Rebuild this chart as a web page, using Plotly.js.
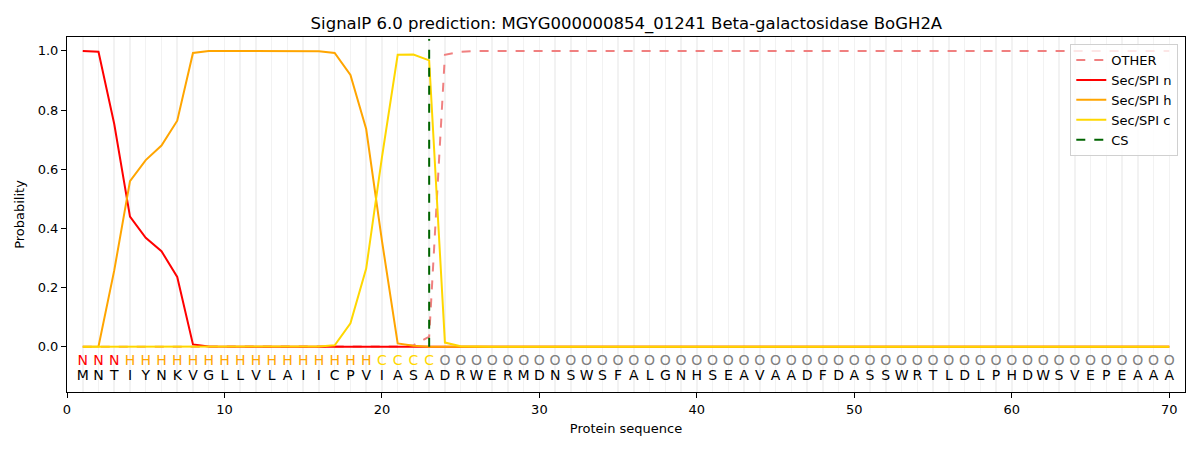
<!DOCTYPE html>
<html>
<head>
<meta charset="utf-8">
<script src="https://cdn.plot.ly/plotly-3.0.1.min.js"></script>
<style>
  html, body { margin: 0; padding: 0; background: #ffffff; }
  #chart { width: 1200px; height: 450px; }
</style>
</head>
<body>
<div id="chart"></div>
<script>
// SignalP 6.0 output for MGYG000000854_01241
var sequence = 'MNTIYNKVGLLVLAIICPVIASADRWERMDNSWSFALGNHSEAVAADFDASSWRTLDLPHDWSVEPEAAA';
var states = 'NNNHHHHHHHHHHHHHHHHCCCCOOOOOOOOOOOOOOOOOOOOOOOOOOOOOOOOOOOOOOOOOOOOOOO';
var csPos = 23;

var otherProb = [
  0, 0, 0, 0, 0, 0, 0, 0, 0, 0,
  0, 0, 0, 0, 0, 0, 0, 0, 0, 0,
  0.001, 0.005, 0.034, 0.987, 0.997, 1, 1, 1, 1, 1,
  1, 1, 1, 1, 1, 1, 1, 1, 1, 1,
  1, 1, 1, 1, 1, 1, 1, 1, 1, 1,
  1, 1, 1, 1, 1, 1, 1, 1, 1, 1,
  1, 1, 1, 1, 1, 1, 1, 1, 1, 1
];
var secN = [
  1.0, 0.997, 0.753, 0.44, 0.368, 0.323, 0.236, 0.008, 0.001, 0,
  0, 0, 0, 0, 0, 0, 0, 0, 0, 0,
  0, 0, 0, 0, 0, 0, 0, 0, 0, 0,
  0, 0, 0, 0, 0, 0, 0, 0, 0, 0,
  0, 0, 0, 0, 0, 0, 0, 0, 0, 0,
  0, 0, 0, 0, 0, 0, 0, 0, 0, 0,
  0, 0, 0, 0, 0, 0, 0, 0, 0, 0
];
var secH = [
  0, 0.001, 0.258, 0.56, 0.631, 0.68, 0.764, 0.993, 1.0, 1.0,
  1.0, 1.0, 1.0, 1.0, 1.0, 0.999, 0.993, 0.919, 0.736, 0.359,
  0.011, 0.003, 0, 0, 0, 0, 0, 0, 0, 0,
  0, 0, 0, 0, 0, 0, 0, 0, 0, 0,
  0, 0, 0, 0, 0, 0, 0, 0, 0, 0,
  0, 0, 0, 0, 0, 0, 0, 0, 0, 0,
  0, 0, 0, 0, 0, 0, 0, 0, 0, 0
];
var secC = [
  0, 0, 0, 0, 0, 0, 0, 0, 0, 0,
  0, 0, 0, 0, 0, 0.001, 0.005, 0.079, 0.264, 0.64,
  0.987, 0.988, 0.968, 0.014, 0.002, 0, 0, 0, 0, 0,
  0, 0, 0, 0, 0, 0, 0, 0, 0, 0,
  0, 0, 0, 0, 0, 0, 0, 0, 0, 0,
  0, 0, 0, 0, 0, 0, 0, 0, 0, 0,
  0, 0, 0, 0, 0, 0, 0, 0, 0, 0
];

var xTicks = [0, 10, 20, 30, 40, 50, 60, 70];
var yTicks = [0, 0.2, 0.4, 0.6, 0.8, 1.0];

var font = 'DejaVu Sans, sans-serif';
var stateColor = { N: '#ff0000', H: '#ffa500', C: '#ffd700', O: '#808080' };

var positions = sequence.split('').map(function (_, i) { return i + 1; });

function probLine(name, y, color, dash) {
  return {
    x: positions, y: y, name: name, type: 'scatter', mode: 'lines',
    line: { color: color, width: 2, dash: dash || 'solid' },
    hoverinfo: 'skip'
  };
}

var traces = [
  probLine('OTHER', otherProb, '#f08080', 'dash'),
  probLine('Sec/SPI n', secN, '#ff0000'),
  probLine('Sec/SPI h', secH, '#ffa500'),
  probLine('Sec/SPI c', secC, '#ffd700'),
  {
    x: [csPos, csPos], y: [0, 1.04], name: 'CS', type: 'scatter', mode: 'lines',
    line: { color: '#006400', width: 2, dash: 'dash' }, hoverinfo: 'skip'
  },
  {
    x: positions, y: positions.map(function () { return -0.05; }),
    text: states.split(''), type: 'scatter', mode: 'text', showlegend: false,
    textfont: { family: font, size: 14, color: states.split('').map(function (s) { return stateColor[s]; }) },
    hoverinfo: 'skip'
  },
  {
    x: positions, y: positions.map(function () { return -0.1; }),
    text: sequence.split(''), type: 'scatter', mode: 'text', showlegend: false,
    textfont: { family: font, size: 14, color: '#000000' },
    hoverinfo: 'skip'
  }
];

var axisBase = {
  showline: true, mirror: true, linecolor: '#000000', linewidth: 1,
  ticks: 'outside', ticklen: 5, tickcolor: '#000000',
  tickfont: { family: font, size: 13, color: '#000000' },
  zeroline: false
};

var layout = {
  width: 1200, height: 450,
  margin: { t: 37, r: 15, b: 58, l: 67 },
  paper_bgcolor: '#ffffff', plot_bgcolor: '#ffffff',
  font: { family: font, size: 13, color: '#000000' },
  title: {
    text: 'SignalP 6.0 prediction: MGYG000000854_01241 Beta-galactosidase BoGH2A',
    font: { family: font, size: 16.5, color: '#000000' },
    x: 0.522, xanchor: 'center', y: 0.949, yref: 'container', yanchor: 'middle'
  },
  xaxis: Object.assign({}, axisBase, {
    range: [0, 71], tickvals: xTicks,
    showgrid: true, gridcolor: '#f2f2f2', gridwidth: 1.5,
    minor: { dtick: 1, tick0: 0, showgrid: true, gridcolor: '#f2f2f2', gridwidth: 1.5, ticks: '' },
    title: { text: 'Protein sequence', font: { family: font, size: 13 }, standoff: 8 }
  }),
  yaxis: Object.assign({}, axisBase, {
    range: [-0.153, 1.047], tickvals: yTicks, tickformat: '.1f', showgrid: false,
    title: { text: 'Probability', font: { family: font, size: 13 }, standoff: 10 }
  }),
  legend: {
    x: 0.994, y: 0.98, xanchor: 'right', yanchor: 'top',
    bgcolor: 'rgba(255,255,255,0.8)', bordercolor: '#d0d0d0', borderwidth: 1,
    font: { family: font, size: 13, color: '#000000' }
  },
  showlegend: true
};

Plotly.newPlot('chart', traces, layout, { displayModeBar: false, staticPlot: true });
</script>
</body>
</html>
